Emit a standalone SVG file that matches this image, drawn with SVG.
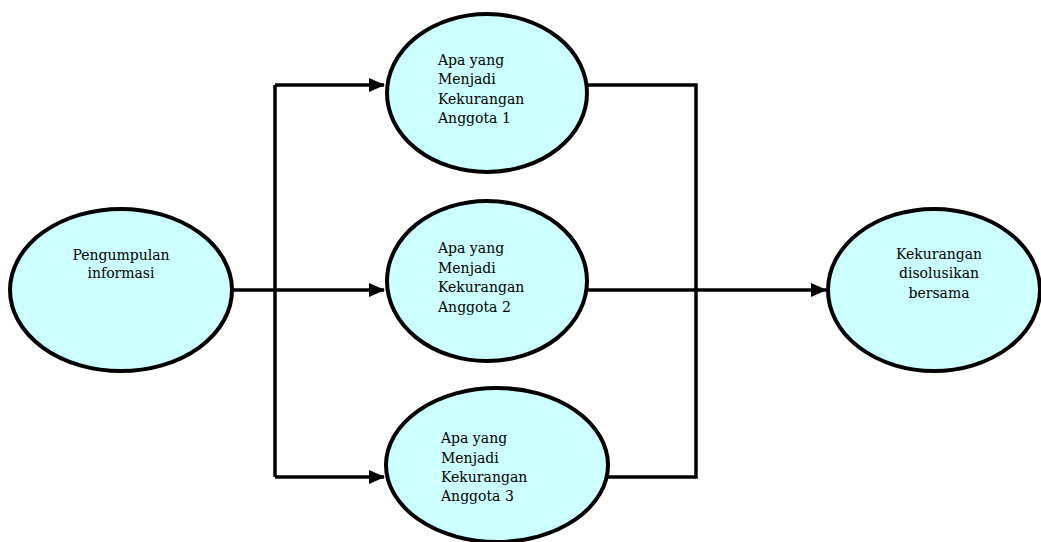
<svg xmlns="http://www.w3.org/2000/svg" width="1041" height="542" viewBox="0 0 1041 542">
<defs>
<marker id="arr" markerWidth="16" markerHeight="14" refX="15" refY="7" orient="auto" markerUnits="userSpaceOnUse">
<path d="M0,0 L16,7 L0,14 Z" fill="#000"/>
</marker>
<style>
.node ellipse{fill:#ccffff;stroke:#000;stroke-width:4}
.node text{font-family:"DejaVu Serif","Liberation Serif",serif;font-size:14px;fill:#000}
.conn path{fill:none;stroke:#000;stroke-width:3.5}
</style>
</defs>
<rect width="1041" height="542" fill="#fff"/>
<g class="conn" id="connectors">
<path d="M233,290 H384" marker-end="url(#arr)"/>
<path d="M275,85 V477"/>
<path d="M275,85 H384" marker-end="url(#arr)"/>
<path d="M275,477 H384" marker-end="url(#arr)"/>
<path d="M587,85 H696 V477 H606"/>
<path d="M587,290 H826" marker-end="url(#arr)"/>
</g>
<g class="node" id="n-pengumpulan">
<ellipse cx="121" cy="290" rx="111" ry="81"/>
<text x="121" y="260" text-anchor="middle">Pengumpulan</text>
<text x="121" y="278" text-anchor="middle">informasi</text>
</g>
<g class="node" id="n-anggota1">
<ellipse cx="487" cy="93" rx="100" ry="79"/>
<text x="438" y="65">Apa yang</text>
<text x="438" y="84">Menjadi</text>
<text x="438" y="104">Kekurangan</text>
<text x="438" y="123">Anggota 1</text>
</g>
<g class="node" id="n-anggota2">
<ellipse cx="487" cy="281" rx="100" ry="80"/>
<text x="438" y="253">Apa yang</text>
<text x="438" y="273">Menjadi</text>
<text x="438" y="292">Kekurangan</text>
<text x="438" y="312">Anggota 2</text>
</g>
<g class="node" id="n-anggota3">
<ellipse cx="497" cy="465" rx="111" ry="77"/>
<text x="441" y="443">Apa yang</text>
<text x="441" y="463">Menjadi</text>
<text x="441" y="482">Kekurangan</text>
<text x="441" y="501">Anggota 3</text>
</g>
<g class="node" id="n-solusi">
<ellipse cx="934" cy="290" rx="106" ry="81"/>
<text x="939" y="259" text-anchor="middle">Kekurangan</text>
<text x="939" y="278" text-anchor="middle">disolusikan</text>
<text x="939" y="298" text-anchor="middle">bersama</text>
</g>
</svg>
